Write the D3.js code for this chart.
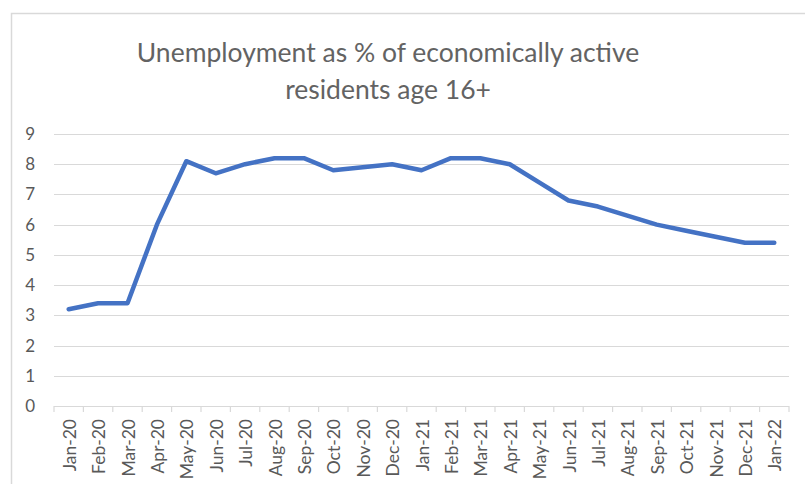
<!DOCTYPE html>
<html>
<head>
<meta charset="utf-8">
<script src="https://cdn.jsdelivr.net/npm/d3@7"></script>
<style>
  body { margin: 0; background: #fff; }
  text { font-family: Lato, "Open Sans", sans-serif; fill: #595959; }
</style>
</head>
<body>
<svg></svg>
<script>
let width = 805,
height = 484,
margin = {top: 134, right: 16, bottom: 78, left: 54};

let months = ["Jan-20","Feb-20","Mar-20","Apr-20","May-20","Jun-20","Jul-20","Aug-20","Sep-20","Oct-20","Nov-20","Dec-20",
  "Jan-21","Feb-21","Mar-21","Apr-21","May-21","Jun-21","Jul-21","Aug-21","Sep-21","Oct-21","Nov-21","Dec-21","Jan-22"];
let rates = [3.2,3.4,3.4,6.0,8.1,7.7,8.0,8.2,8.2,7.8,7.9,8.0,
  7.8,8.2,8.2,8.0,7.4,6.8,6.6,6.3,6.0,5.8,5.6,5.4,5.4];
let yTicks = [0,1,2,3,4,5,6,7,8,9];
let titleLines = ["Unemployment as % of economically active", "residents age 16+"];

let svg = d3.select("svg")
  .attr("width", width)
  .attr("height", height);

// chart frame (only top/left edges show in the crop)
svg.append("path")
  .attr("d", `M11.5,${height} V13.5 H${width}`)
  .attr("fill", "none")
  .attr("stroke", "#d9d9d9")
  .attr("stroke-width", 1.5);

svg.selectAll(".title")
  .data(titleLines)
  .enter()
  .append("text")
  .attr("class", "title")
  .attr("x", 388)
  .attr("y", (d, i) => 62 + i * 37)
  .attr("text-anchor", "middle")
  .style("font-size", "26.5px")
  .style("font-weight", 400)
  .style("fill", "#636363")
  .text(d => d);

let innerW = width - margin.left - margin.right,
innerH = height - margin.top - margin.bottom;

let xScale = d3.scaleBand().domain(months).range([0, innerW]);
let yScale = d3.scaleLinear().domain([0, 9]).range([innerH, 0]);

let g = svg.append("g")
  .attr("transform", `translate(${margin.left}, ${margin.top})`);

// gridlines
g.append("g")
  .selectAll("line")
  .data(yTicks.filter(d => d > 0))
  .enter()
  .append("line")
  .attr("x1", 0)
  .attr("x2", innerW)
  .attr("y1", d => Math.round(yScale(d)) + 0.5)
  .attr("y2", d => Math.round(yScale(d)) + 0.5)
  .attr("stroke", "#d9d9d9")
  .attr("stroke-width", 1.2);

// y axis labels
let yAxis = d3.axisLeft(yScale).tickValues(yTicks).tickSize(0).tickPadding(19);
g.append("g")
  .call(yAxis)
  .call(a => a.select(".domain").remove())
  .call(a => a.selectAll("text").style("font-size", "17px").attr("fill", "#595959"));

// x axis: baseline + boundary ticks
let xg = g.append("g").attr("transform", `translate(0, ${innerH})`);
xg.append("line")
  .attr("x1", 0).attr("x2", innerW)
  .attr("y1", 0.5).attr("y2", 0.5)
  .attr("stroke", "#d9d9d9").attr("stroke-width", 1.2);
xg.selectAll(".tk")
  .data(months.concat(["end"]))
  .enter()
  .append("line")
  .attr("class", "tk")
  .attr("x1", (d, i) => i * xScale.step())
  .attr("x2", (d, i) => i * xScale.step())
  .attr("y1", 0).attr("y2", 6)
  .attr("stroke", "#d9d9d9").attr("stroke-width", 1.2);

xg.selectAll(".lbl")
  .data(months)
  .enter()
  .append("text")
  .attr("class", "lbl")
  .attr("transform", d => `translate(${xScale(d) + xScale.bandwidth() / 2 + 1}, 13) rotate(-90)`)
  .attr("dy", "0.35em")
  .attr("text-anchor", "end")
  .style("font-size", "17.5px")
  .text(d => d);

// data line
let line = d3.line()
  .x((d, i) => xScale(months[i]) + xScale.bandwidth() / 2)
  .y(d => yScale(d));

g.append("path")
  .datum(rates)
  .attr("d", line)
  .attr("fill", "none")
  .attr("stroke", "#4472c4")
  .attr("stroke-width", 4.5)
  .attr("stroke-linejoin", "round")
  .attr("stroke-linecap", "round");
</script>
</body>
</html>
